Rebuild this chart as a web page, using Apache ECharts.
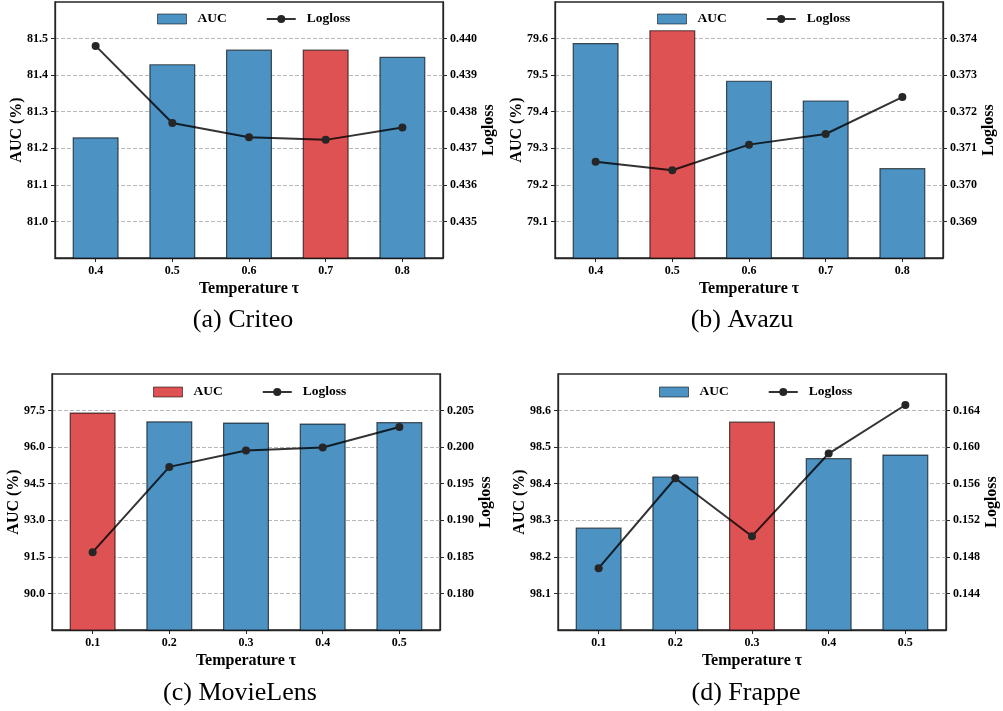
<html>
<head>
<meta charset="utf-8">
<script src="https://cdn.jsdelivr.net/npm/echarts@6/dist/echarts.min.js"></script>
</head>
<body style="margin: 0; background: #fff">
	<div id="pa" style="position:absolute; left:0; top:0; width:501px; height:355px"></div>
	<div id="pb" style="position:absolute; left:500px; top:0; width:503px; height:355px"></div>
	<div id="pc" style="position:absolute; left:0; top:355px; width:501px; height:356px"></div>
	<div id="pd" style="position:absolute; left:500px; top:355px; width:503px; height:356px"></div>

	<script type="text/javascript">
		// categories (temperature)
		var tempsAB = ['0.4', '0.5', '0.6', '0.7', '0.8'];
		var tempsCD = ['0.1', '0.2', '0.3', '0.4', '0.5'];

		// values
		var criteoAuc = [81.23, 81.43, 81.47, 81.47, 81.45];
		var criteoLogloss = [0.4398, 0.43769, 0.43730, 0.43723, 0.43757];
		var avazuAuc = [79.588, 79.623, 79.485, 79.431, 79.246];
		var avazuLogloss = [0.37063, 0.37040, 0.37110, 0.37139, 0.37240];
		var movielensAuc = [97.42, 97.06, 97.01, 96.97, 97.03];
		var movielensLogloss = [0.18564, 0.1973, 0.19953, 0.19994, 0.20276];
		var frappeAuc = [98.28, 98.42, 98.57, 98.47, 98.48];
		var frappeLogloss = [0.14676, 0.1566, 0.15026, 0.1593, 0.16461];

		// highlighted (best) bar per panel
		var bestIndex = [3, 1, 0, 2];

		// axis ranges [min, max, step]
		var criteoAucAxis = [80.9, 81.6, 0.1];
		var criteoLossAxis = [0.434, 0.441, 0.001];
		var avazuAucAxis = [79.0, 79.7, 0.1];
		var avazuLossAxis = [0.368, 0.375, 0.001];
		var movielensAucAxis = [88.5, 99.0, 1.5];
		var movielensLossAxis = [0.175, 0.210, 0.005];
		var frappeAucAxis = [98.0, 98.7, 0.1];
		var frappeLossAxis = [0.140, 0.168, 0.004];

		var captions = ['(a) Criteo', '(b) Avazu', '(c) MovieLens', '(d) Frappe'];

		var BLUE = '#4c92c3';
		var RED = '#de5253';
		var FRAME = '#262626';
		var SERIF = 'Liberation Serif';
		var W = 388, H = 256;
		// matplotlib-like x margin: the bands sit slightly inside the frame
		var INSET = 2.3;

		function yAxisOf(grid, range, digits, name, showGrid, gap, visible) {
			return {
				gridIndex : grid,
				type : 'value',
				show : visible,
				min : range[0],
				max : range[1],
				interval : range[2],
				name : visible ? name : '',
				nameLocation : 'middle',
				nameRotate : 90,
				nameGap : gap,
				nameMoveOverlap : false,
				nameTextStyle : { fontFamily : SERIF, fontWeight : 'bold', fontSize : 16, color : '#000' },
				axisLine : { show : true, lineStyle : { color : FRAME, width : 1.3 } },
				axisTick : { show : true, length : 4, lineStyle : { color : FRAME, width : 1 } },
				axisLabel : {
					showMinLabel : false,
					showMaxLabel : false,
					margin : 7,
					fontFamily : SERIF, fontWeight : 'bold', fontSize : 12, color : '#000',
					formatter : function (v) { return v.toFixed(digits); }
				},
				splitLine : {
					show : showGrid,
					showMinLine : false,
					showMaxLine : false,
					lineStyle : { color : '#b8b8b8', width : 1, type : [4, 2] }
				}
			};
		}

		function buildPanel(id, p) {
			var chart = echarts.init(document.getElementById(id));
			var barData = p.auc.map(function (v, i) {
				return { value : v, itemStyle : { color : i === p.best ? RED : BLUE } };
			});
			var option = {
				animation : false,
				title : {
					text : p.caption,
					left : p.capX,
					top : p.capY,
					padding : 0,
					textAlign : 'center',
					textStyle : { fontFamily : SERIF, fontWeight : 'normal', fontSize : 26, color : '#000' }
				},
				legend : {
					left : p.legX,
					top : p.legY,
					padding : 0,
					itemWidth : 29,
					itemHeight : 10,
					itemGap : 39,
					textStyle : { fontFamily : SERIF, fontWeight : 'bold', fontSize : 13.5, color : '#000', padding : [0, 0, 0, 6] },
					data : [
						{ name : 'AUC', icon : 'rect', itemStyle : { color : p.best === 0 ? RED : BLUE, borderColor : 'rgba(0,0,0,0.55)', borderWidth : 1 } },
						{ name : 'Logloss' }
					]
				},
				grid : [ {
					// frame
					left : p.gridLeft, top : p.gridTop, width : W, height : H,
					containLabel : false, outerBoundsMode : 'none',
					show : true, borderColor : FRAME, borderWidth : 1.3, backgroundColor : 'transparent'
				}, {
					// bars
					left : p.gridLeft + INSET, top : p.gridTop, width : W - 2 * INSET, height : H,
					containLabel : false, outerBoundsMode : 'none'
				} ],
				xAxis : [ {
					gridIndex : 0,
					type : 'value',
					min : 0,
					max : 1,
					axisLine : { show : true, lineStyle : { color : FRAME, width : 1.3 } },
					axisTick : { show : false },
					axisLabel : { show : false },
					splitLine : { show : false }
				}, {
					gridIndex : 1,
					type : 'category',
					data : p.temps,
					name : 'Temperature τ',
					nameLocation : 'middle',
					nameGap : 22.5,
					nameMoveOverlap : false,
					nameTextStyle : { fontFamily : SERIF, fontWeight : 'bold', fontSize : 16, color : '#000' },
					axisLine : { show : false },
					axisTick : { show : true, alignWithLabel : true, length : 4, lineStyle : { color : FRAME } },
					axisLabel : { margin : 7, fontFamily : SERIF, fontWeight : 'bold', fontSize : 12, color : '#000' }
				} ],
				yAxis : [
					yAxisOf(0, p.aucAxis, 1, 'AUC (%)', true, 30, true),
					yAxisOf(0, p.lossAxis, 3, 'Logloss', false, 38, true),
					yAxisOf(1, p.aucAxis, 1, '', false, 0, false),
					yAxisOf(1, p.lossAxis, 3, '', false, 0, false)
				],
				series : [ {
					name : 'AUC',
					type : 'bar',
					barWidth : 46,
					xAxisIndex : 1,
					yAxisIndex : 2,
					itemStyle : { color : BLUE, borderColor : 'rgba(0,0,0,0.65)', borderWidth : 1.2 },
					data : barData
				}, {
					name : 'Logloss',
					type : 'line',
					xAxisIndex : 1,
					yAxisIndex : 3,
					z : 5,
					symbol : 'circle',
					symbolSize : 8,
					lineStyle : { color : 'rgba(0,0,0,0.8)', width : 2 },
					itemStyle : { color : '#262626' },
					data : p.loss
				} ]
			};
			chart.setOption(option);
		}

		buildPanel('pa', { temps : tempsAB, auc : criteoAuc, loss : criteoLogloss, best : bestIndex[0],
			aucAxis : criteoAucAxis, lossAxis : criteoLossAxis, caption : captions[0],
			gridLeft : 55, gridTop : 2, legX : 157, legY : 12, capX : 243, capY : 307 });
		buildPanel('pb', { temps : tempsAB, auc : avazuAuc, loss : avazuLogloss, best : bestIndex[1],
			aucAxis : avazuAucAxis, lossAxis : avazuLossAxis, caption : captions[1],
			gridLeft : 55, gridTop : 2, legX : 157, legY : 12, capX : 242, capY : 307 });
		buildPanel('pc', { temps : tempsCD, auc : movielensAuc, loss : movielensLogloss, best : bestIndex[2],
			aucAxis : movielensAucAxis, lossAxis : movielensLossAxis, caption : captions[2],
			gridLeft : 52, gridTop : 19, legX : 153, legY : 30, capX : 240, capY : 325 });
		buildPanel('pd', { temps : tempsCD, auc : frappeAuc, loss : frappeLogloss, best : bestIndex[3],
			aucAxis : frappeAucAxis, lossAxis : frappeLossAxis, caption : captions[3],
			gridLeft : 58, gridTop : 19, legX : 159, legY : 30, capX : 246, capY : 325 });
	</script>
</body>
</html>
